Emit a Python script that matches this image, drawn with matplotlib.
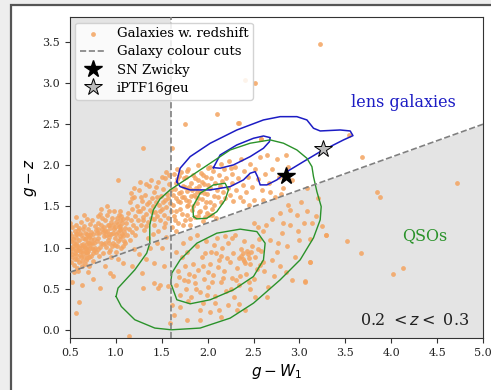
import matplotlib
matplotlib.use('Agg')
import matplotlib.pyplot as plt
from matplotlib.patches import Rectangle

plt.rcParams['font.family'] = 'DejaVu Serif'
plt.rcParams['mathtext.fontset'] = 'dejavusans'

# galaxies with redshift, red sequence (left part)
seq_a = [(0.50,0.95),(0.51,1.08),(0.52,0.88),(0.50,1.18),(0.53,1.02),(0.54,0.79),(0.52,1.25),(0.55,0.93),(0.56,1.12),(0.51,0.83),
         (0.57,1.03),(0.58,0.86),(0.55,1.20),(0.59,0.97),(0.60,1.09),(0.53,0.98),(0.61,0.91),(0.57,1.28),(0.62,1.15),(0.58,0.75),
         (0.63,1.01),(0.60,0.82),(0.64,1.22),(0.61,0.96),(0.65,0.89),(0.56,1.06),(0.66,1.10),(0.62,1.31),(0.67,0.98),(0.63,0.84),
         (0.68,1.17),(0.64,1.04),(0.69,0.92),(0.65,1.26),(0.70,1.07),(0.66,0.80),(0.71,1.13),(0.67,0.95),(0.72,0.99),(0.68,1.35),
         (0.73,1.19),(0.69,0.87),(0.74,1.05),(0.70,1.23),(0.75,0.93),(0.71,0.78),(0.76,1.11),(0.72,1.29),(0.77,1.00),(0.73,0.90),
         (0.50,1.30),(0.52,1.14),(0.54,0.70),(0.56,0.97),(0.58,1.16),(0.60,1.24),(0.62,1.03),(0.64,0.93),(0.66,1.18),(0.68,1.06),
         (0.70,0.96),(0.72,1.15),(0.74,1.34),(0.76,0.97),(0.78,1.21),(0.51,1.00),(0.53,1.11),(0.55,0.86),(0.57,0.91),(0.59,1.21),
         (0.61,1.18),(0.63,0.96),(0.65,1.02),(0.67,1.12),(0.69,1.01),(0.71,1.06),(0.73,1.10),(0.75,1.16),(0.77,1.26),(0.78,0.95),
         (0.54,1.06),(0.58,1.02),(0.62,0.88),(0.66,1.00),(0.70,1.15),(0.74,1.00),(0.76,1.05),(0.52,0.92),(0.56,1.16),(0.60,1.00),
         (0.64,1.12),(0.68,0.94),(0.72,1.04),(0.59,0.72),(0.63,0.77),(0.67,0.85),(0.71,0.88),(0.75,0.84),(0.57,1.37),(0.65,1.40)]

seq_b = [(0.79,1.08),(0.80,1.30),(0.81,0.98),(0.82,1.18),(0.83,1.41),(0.84,1.05),(0.85,1.23),(0.86,0.93),(0.87,1.14),(0.88,1.33),
         (0.89,1.01),(0.90,1.20),(0.91,1.09),(0.92,1.44),(0.93,1.27),(0.94,0.97),(0.95,1.16),(0.96,1.36),(0.97,1.06),(0.98,1.22),
         (0.99,1.12),(1.00,1.31),(1.01,1.02),(1.02,1.19),(1.03,1.40),(1.04,1.10),(1.05,1.26),(1.06,0.99),(1.07,1.17),(1.08,1.35),
         (1.09,1.08),(1.10,1.24),(0.80,1.12),(0.82,0.90),(0.84,1.27),(0.86,1.19),(0.88,1.06),(0.90,1.39),(0.92,1.13),(0.94,1.24),
         (0.96,1.02),(0.98,1.45),(1.00,1.16),(1.02,1.29),(1.04,1.21),(1.06,1.38),(1.08,1.14),(1.10,1.05),(0.81,1.22),(0.83,1.01),
         (0.85,1.36),(0.87,1.25),(0.89,1.15),(0.91,1.28),(0.93,1.05),(0.95,1.31),(0.97,1.18),(0.99,1.03),(1.01,1.36),(1.03,1.25),
         (1.05,1.14),(1.07,1.30),(1.09,1.19),(0.84,1.47),(0.90,1.50),(0.95,0.88),(1.00,0.94),(1.05,1.45),(0.88,1.20),(0.93,1.17),
         (0.97,1.28),(1.02,1.08),(1.06,1.22),(0.86,1.04),(0.79,1.18),(0.92,0.95),(1.08,1.02),(0.99,1.25),(1.04,1.33),(0.81,1.38)]

seq_c = [(1.11,1.30),(1.12,1.15),(1.13,1.42),(1.14,1.22),(1.15,1.55),(1.16,1.34),(1.17,1.19),(1.18,1.47),(1.19,1.28),(1.20,1.62),
         (1.21,1.38),(1.22,1.24),(1.23,1.51),(1.24,1.33),(1.25,1.70),(1.26,1.44),(1.27,1.27),(1.28,1.57),(1.29,1.37),(1.30,1.48),
         (1.31,1.21),(1.32,1.64),(1.33,1.41),(1.34,1.53),(1.35,1.31),(1.36,1.75),(1.37,1.46),(1.38,1.36),(1.39,1.60),(1.40,1.50),
         (1.41,1.28),(1.42,1.67),(1.43,1.43),(1.44,1.56),(1.45,1.38),(1.46,1.80),(1.47,1.52),(1.48,1.33),(1.49,1.63),(1.50,1.47),
         (1.51,1.71),(1.52,1.40),(1.53,1.58),(1.54,1.84),(1.55,1.49),(1.56,1.65),(1.57,1.36),(1.58,1.77),(1.59,1.54),(1.60,1.45),
         (1.12,1.36),(1.15,1.09),(1.18,1.60),(1.21,1.15),(1.24,1.45),(1.27,1.62),(1.30,1.34),(1.33,1.26),(1.36,1.55),(1.39,1.43),
         (1.42,1.35),(1.45,1.62),(1.48,1.45),(1.51,1.55),(1.54,1.30),(1.57,1.60),(1.60,1.70),(1.58,1.88),(1.55,1.92),(1.50,1.86),
         (1.44,1.74),(1.38,1.82),(1.33,1.77),(1.26,1.80),(1.20,1.72),(1.16,1.66),(1.52,1.25),(1.46,1.20),(1.40,1.16),(1.35,1.12)]

seq_d = [(1.61,1.25),(1.62,1.52),(1.63,1.38),(1.64,1.71),(1.65,1.60),(1.66,1.44),(1.67,1.83),(1.68,1.30),(1.69,1.66),(1.70,1.55),
         (1.71,1.92),(1.72,1.41),(1.73,1.75),(1.74,1.62),(1.75,1.34),(1.76,1.86),(1.77,1.50),(1.78,1.69),(1.79,1.96),(1.80,1.57),
         (1.81,1.27),(1.82,1.79),(1.83,1.46),(1.84,1.88),(1.85,1.64),(1.86,1.37),(1.87,1.73),(1.88,1.54),(1.89,2.00),(1.90,1.82),
         (1.91,1.43),(1.92,1.68),(1.93,1.91),(1.94,1.59),(1.95,1.32),(1.96,1.77),(1.97,1.49),(1.98,1.86),(1.99,1.65),(2.00,1.97),
         (2.01,1.40),(2.02,1.72),(2.03,1.56),(2.04,1.84),(2.05,1.47),(2.06,1.93),(2.07,1.63),(2.08,1.78),(2.09,1.36),(2.10,1.70),
         (1.62,1.64),(1.64,1.33),(1.66,1.78),(1.68,1.57),(1.70,1.47),(1.72,1.62),(1.74,1.84),(1.76,1.58),(1.78,1.40),(1.80,1.74),
         (1.82,1.63),(1.84,1.51),(1.86,1.85),(1.88,1.68),(1.90,1.60),(1.92,1.45),(1.94,1.80),(1.96,1.66),(1.98,1.55),(2.00,1.76),
         (1.63,1.90),(1.67,1.96),(1.71,1.68),(1.75,1.74),(1.79,1.52),(1.83,1.70),(1.87,1.62),(1.91,1.75),(1.95,1.88),(1.99,1.42),
         (2.03,1.98),(2.07,1.52),(1.65,1.20),(1.73,1.28),(1.81,1.35),(1.89,1.38),(1.97,1.37),(2.05,1.39),(1.69,1.87),(1.77,1.93)]

# white region, inside the lens galaxy contours
seq_e = [(2.11,1.62),(2.12,1.88),(2.13,1.75),(2.14,2.02),(2.15,1.55),(2.16,1.81),(2.17,1.68),(2.18,1.95),(2.19,1.60),(2.20,1.85),
         (2.22,1.73),(2.23,2.05),(2.24,1.64),(2.26,1.90),(2.27,1.78),(2.28,1.57),(2.30,1.98),(2.31,1.70),(2.33,1.84),(2.35,1.62),
         (2.36,2.08),(2.38,1.76),(2.40,1.93),(2.42,1.67),(2.44,1.86),(2.46,2.02),(2.48,1.74),(2.50,1.58),(2.52,1.95),(2.55,1.83),
         (2.57,2.10),(2.59,1.70),(2.62,1.90),(2.65,2.13),(2.67,1.78),(2.70,1.96),(2.73,1.62),(2.75,2.08),(2.78,1.86),(2.82,1.72),
         (2.85,2.13),(2.88,1.98),(2.58,2.32),(2.45,1.52),(2.60,1.58),(2.68,1.68),(2.80,1.65),(2.92,1.82),(2.25,1.97),(2.38,1.57)]

# lower cloud (QSO-like colours)
low_a = [(1.65,0.55),(1.68,0.72),(1.70,0.42),(1.72,0.88),(1.74,0.61),(1.76,0.50),(1.78,0.95),(1.80,0.68),(1.82,0.40),(1.84,0.80),
         (1.86,0.57),(1.88,1.02),(1.90,0.73),(1.92,0.46),(1.94,0.88),(1.96,0.62),(1.98,1.08),(2.00,0.52),(2.02,0.80),(2.04,0.95),
         (2.06,0.67),(2.08,0.41),(2.10,1.12),(2.12,0.85),(2.14,0.58),(2.16,0.99),(2.18,0.72),(2.20,0.47),(2.22,1.06),(2.24,0.82),
         (2.26,0.63),(2.28,0.93),(2.30,1.15),(2.32,0.75),(2.34,0.55),(2.36,0.98),(2.38,0.86),(2.40,1.08),(2.42,0.68),(2.44,0.92),
         (2.46,0.80),(2.48,1.02),(2.50,0.62),(2.52,0.88),(2.54,0.74),(2.56,1.10),(2.58,0.96),(2.60,0.82),(2.36,0.90),(2.40,0.84),
         (2.43,0.96),(2.38,0.93),(2.45,0.87),(2.41,0.81),(2.47,0.94),(2.34,0.87),(1.85,0.66),(1.95,0.77),(2.05,0.58),(2.15,0.90),
         (2.25,0.50),(2.35,0.65),(2.45,0.58),(2.55,0.98),(1.75,0.78),(1.87,0.49),(1.97,0.93),(2.07,1.03),(2.17,0.63),(2.27,1.12),
         (2.00,0.70),(2.11,0.76),(2.21,0.87),(2.31,0.60),(2.19,1.14),(2.09,0.93),(1.99,0.42),(1.79,0.59),(1.69,0.64),(2.29,0.40)]

low_b = [(1.61,0.30),(1.63,0.18),(1.66,0.95),(1.70,0.28),(1.73,1.05),(1.77,0.12),(1.79,0.35),(1.81,1.12),(1.88,1.15),(1.92,0.24),
         (1.92,0.12),(1.95,0.33),(2.03,0.22),(2.08,0.32),(2.12,0.24),(2.15,0.16),(2.22,0.30),(2.32,0.24),(2.34,0.31),(2.41,0.24),
         (2.46,0.49),(2.52,0.40),(2.57,0.79),(2.61,0.71),(2.64,1.28),(2.68,1.09),(2.70,0.85),(2.72,0.65),(2.77,1.05),(2.79,0.77),
         (2.81,1.18),(2.82,1.30),(2.79,1.42),(2.90,1.28),(2.90,1.46),(2.92,0.61),(2.97,1.40),(3.00,1.09),(3.05,1.30),(3.06,0.59),
         (3.08,1.44),(3.12,1.10),(3.12,0.83),(3.14,1.30),(3.25,1.26),(3.29,1.15),(2.66,0.52),(2.75,0.95),(2.86,1.02),(2.95,0.88),
         (2.60,1.20),(2.55,1.25),(2.70,1.35),(2.50,1.30),(2.85,0.70),(2.98,1.20),(3.18,1.38),(2.88,1.52),(3.02,1.55),(2.65,0.40)]

left_gray = [(0.94,0.69),(1.17,0.77),(1.28,0.69),(1.41,0.81),(1.50,0.99),(1.55,1.13),(1.37,0.99),(1.30,0.51),(1.48,0.55),(1.57,0.53),
             (1.52,0.77),(0.57,0.20),(0.63,0.55),(0.60,0.34),(0.83,0.51),(0.97,0.66),(1.08,0.81),(1.14,-0.08),(1.46,0.51),(1.41,0.57),
             (0.75,0.62),(0.88,0.78),(1.02,0.86),(1.25,0.92),(1.45,1.05),(0.52,0.58),(0.70,0.70),(1.20,0.98),(1.33,0.86),(1.59,0.08)]

outliers = [(3.22,3.47),(2.41,3.04),(2.52,3.00),(2.10,2.63),(1.75,2.50),(2.33,2.51),(1.30,2.21),(1.615,2.21),(1.02,1.82),(3.535,2.37),
            (3.68,2.106),(4.72,1.79),(3.84,1.67),(3.88,1.62),(3.52,1.085),(3.67,0.93),(4.02,0.68),(4.13,0.75),(3.29,1.154),(3.11,0.83),
            (3.06,0.58),(2.58,2.32),(2.34,2.51),(3.08,1.72),(3.20,1.60)]

# KDE contour outlines (lens galaxies, blue)
lens_outer_x = [1.663,1.700,1.809,2.027,2.318,2.608,2.790,2.972,3.081,3.153,3.226,3.444,3.553,3.583,3.480,3.226,3.044,2.863,
                2.754,2.645,2.572,2.543,2.517,2.463,2.390,2.245,2.027,1.809,1.700,1.663]
lens_outer_y = [1.802,1.965,2.106,2.268,2.430,2.552,2.592,2.592,2.552,2.451,2.418,2.430,2.418,2.361,2.309,2.166,2.045,1.923,
                1.823,1.762,1.762,1.863,1.923,1.904,1.823,1.741,1.701,1.701,1.741,1.802]
lens_inner_x = [2.063,2.136,2.318,2.499,2.608,2.681,2.673,2.608,2.463,2.281,2.136,2.063]
lens_inner_y = [1.972,2.126,2.248,2.329,2.357,2.337,2.288,2.208,2.106,2.005,1.965,1.972]

# QSO contours (green)
qso_outer_x = [1.002,1.023,1.206,1.336,1.369,1.369,1.408,1.481,1.590,1.809,2.027,2.245,2.463,2.681,2.826,2.972,3.081,3.136,
               3.153,3.190,3.237,3.226,3.153,3.008,2.790,2.499,2.245,1.918,1.605,1.424,1.206,1.059,1.002]
qso_outer_y = [0.405,0.507,0.729,0.932,1.053,1.276,1.458,1.592,1.701,1.863,2.025,2.187,2.269,2.309,2.269,2.187,2.086,1.984,
               1.863,1.680,1.498,1.337,1.118,0.851,0.608,0.324,0.142,0.021,0.000,0.021,0.122,0.283,0.405]
qso_low_x = [1.598,1.609,1.700,1.882,2.100,2.354,2.536,2.626,2.608,2.499,2.281,2.027,1.809,1.664,1.598]
qso_low_y = [0.567,0.689,0.851,1.053,1.175,1.224,1.194,1.053,0.851,0.648,0.486,0.365,0.316,0.365,0.567]
qso_up_x = [1.845,1.838,1.918,2.063,2.190,2.226,2.190,2.100,1.991,1.882,1.845]
qso_up_y = [1.377,1.498,1.661,1.762,1.782,1.701,1.580,1.437,1.357,1.349,1.377]

# colour cuts
cut_x = 1.6
cut_slope = 0.4
cut_icpt = 0.5

sn_zwicky = (2.855, 1.875)
iptf16geu = (3.255, 2.20)

xlim = (0.5, 5.0)
ylim = (-0.1, 3.8)

fig = plt.figure(figsize=(4.91, 3.90), dpi=100, facecolor='#eeeeee')
fig.patches.append(Rectangle((0.0224, -0.05), 1.05, 1.037, transform=fig.transFigure,
                             facecolor='white', edgecolor='#555555', linewidth=1.6, zorder=-10))
ax = fig.add_axes([0.1426, 0.1333, 0.8411, 0.8223])

shade = '#e4e4e4'
ax.axvspan(xlim[0], cut_x, color=shade, lw=0, zorder=0)
ax.fill_between([cut_x, xlim[1]], [ylim[0], ylim[0]],
                [cut_slope * cut_x + cut_icpt, cut_slope * xlim[1] + cut_icpt], color=shade, lw=0, zorder=0)

pts = seq_a + seq_b + seq_c + seq_d + seq_e + low_a + low_b + left_gray + outliers
ax.scatter([p[0] for p in pts], [p[1] for p in pts], s=12, color='#f4a460', alpha=0.85,
           linewidths=0, zorder=2, label='Galaxies w. redshift')

ax.plot(xlim, [cut_slope * xlim[0] + cut_icpt, cut_slope * xlim[1] + cut_icpt],
        ls='--', color='gray', lw=1.2, zorder=4, label='Galaxy colour cuts')
ax.axvline(cut_x, ls='--', color='gray', lw=1.2, zorder=4)

blue = '#1c1cc4'
green = '#2a922a'
ax.plot(lens_outer_x, lens_outer_y, color=blue, lw=1.1, zorder=3)
ax.plot(lens_inner_x, lens_inner_y, color=blue, lw=1.1, zorder=3)
ax.plot(qso_outer_x, qso_outer_y, color=green, lw=1.0, zorder=3)
ax.plot(qso_low_x, qso_low_y, color=green, lw=1.0, zorder=3)
ax.plot(qso_up_x, qso_up_y, color=green, lw=1.0, zorder=3)

ax.plot(*sn_zwicky, marker='*', ms=13, color='black', ls='none', zorder=6, label='SN Zwicky')
ax.plot(*iptf16geu, marker='*', ms=13, mfc='#bbbbbb', mec='black', mew=0.7, ls='none',
        zorder=6, label='iPTF16geu')

ax.text(3.56, 2.76, 'lens galaxies', color=blue, fontsize=11.5, ha='left', va='center')
ax.text(4.36, 1.15, 'QSOs', color=green, fontsize=11.5, ha='center', va='center')
ax.text(4.26, 0.11, '0.2 $<z<$ 0.3', color='#222222', fontsize=11.5, ha='center', va='center')

ax.set_xlim(*xlim)
ax.set_ylim(*ylim)
ax.set_xticks([0.5, 1.0, 1.5, 2.0, 2.5, 3.0, 3.5, 4.0, 4.5, 5.0])
ax.set_yticks([0.0, 0.5, 1.0, 1.5, 2.0, 2.5, 3.0, 3.5])
ax.tick_params(labelsize=8, length=3.5, color='#333333', labelcolor='#222222')
for sp in ax.spines.values():
    sp.set_color('#333333')
ax.set_xlabel('$g - W_1$', fontsize=11)
ax.set_ylabel('$g - z$', fontsize=11)
ax.xaxis.set_label_coords(0.5, -0.075)
ax.yaxis.set_label_coords(-0.075, 0.5)

ax.legend(loc='upper left', fontsize=9.5, framealpha=0.85, borderaxespad=0.4, handletextpad=0.8,
          labelspacing=0.4, borderpad=0.35)

fig.savefig('out.png', dpi=100, facecolor=fig.get_facecolor())
